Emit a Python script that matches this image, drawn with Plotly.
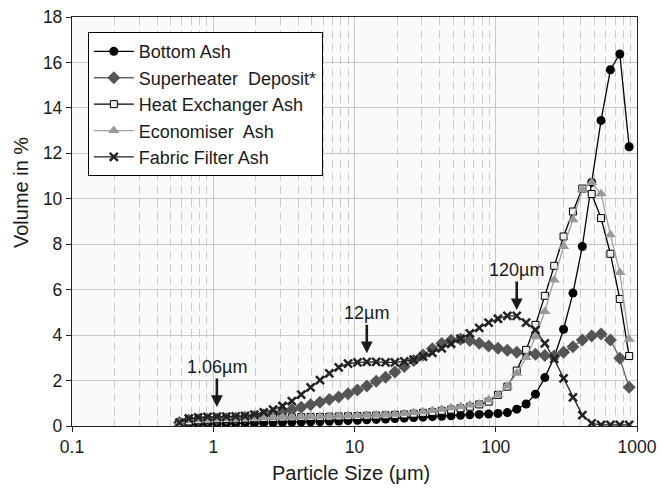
import plotly.graph_objects as go
import math

# Particle size classes (µm)
sizes = [0.576, 0.671, 0.782, 0.911, 1.061, 1.236, 1.440, 1.678, 1.954, 2.277,
         2.653, 3.090, 3.601, 4.195, 4.887, 5.693, 6.633, 7.728, 9.003, 10.49,
         12.22, 14.24, 16.59, 19.32, 22.51, 26.23, 30.55, 35.60, 41.47, 48.31,
         56.29, 65.58, 76.40, 89.01, 103.7, 120.8, 140.8, 164.0, 191.1, 222.6,
         259.3, 302.1, 352.0, 410.1, 477.7, 556.6, 648.4, 755.4, 880.0]

bottom_ash = [0.05, 0.07, 0.08, 0.09, 0.10, 0.10, 0.11, 0.12, 0.12, 0.13,
              0.14, 0.15, 0.16, 0.17, 0.18, 0.19, 0.21, 0.22, 0.24, 0.25,
              0.27, 0.29, 0.31, 0.33, 0.35, 0.37, 0.39, 0.41, 0.43, 0.45,
              0.47, 0.49, 0.51, 0.53, 0.55, 0.59, 0.74, 0.97, 1.40, 2.13,
              3.03, 4.26, 5.85, 7.90, 10.72, 13.45, 15.68, 16.37, 12.29]

superheater = [0.15, 0.25, 0.28, 0.30, 0.31, 0.32, 0.34, 0.37, 0.42, 0.48,
               0.55, 0.63, 0.72, 0.82, 0.93, 1.05, 1.17, 1.28, 1.42, 1.58,
               1.76, 1.97, 2.15, 2.38, 2.62, 2.88, 3.12, 3.40, 3.63, 3.77,
               3.82, 3.76, 3.64, 3.52, 3.42, 3.33, 3.25, 3.22, 3.16, 3.10,
               3.08, 3.25, 3.49, 3.79, 3.96, 4.05, 3.79, 2.98, 1.70]

heat_exchanger = [0.10, 0.20, 0.25, 0.28, 0.30, 0.31, 0.32, 0.33, 0.34, 0.35,
                  0.36, 0.37, 0.38, 0.39, 0.40, 0.40, 0.41, 0.42, 0.43, 0.44,
                  0.45, 0.46, 0.47, 0.49, 0.51, 0.54, 0.58, 0.62, 0.67, 0.72,
                  0.78, 0.85, 0.95, 1.07, 1.37, 1.73, 2.44, 3.35, 4.45, 5.73,
                  7.05, 8.34, 9.44, 10.45, 10.21, 9.15, 7.58, 5.59, 3.08]

economiser = [0.12, 0.24, 0.28, 0.30, 0.31, 0.32, 0.33, 0.34, 0.35, 0.36,
              0.37, 0.38, 0.39, 0.40, 0.41, 0.42, 0.43, 0.44, 0.45, 0.46,
              0.47, 0.48, 0.50, 0.52, 0.55, 0.59, 0.63, 0.68, 0.74, 0.80,
              0.86, 0.92, 0.97, 1.15, 1.37, 1.76, 2.32, 3.01, 3.93, 5.04,
              6.43, 7.90, 9.08, 10.40, 10.72, 10.22, 8.42, 6.76, 3.82]

fabric_filter = [0.15, 0.33, 0.38, 0.40, 0.41, 0.41, 0.42, 0.44, 0.50, 0.60,
                 0.72, 0.88, 1.10, 1.38, 1.70, 2.02, 2.32, 2.58, 2.74, 2.80,
                 2.82, 2.82, 2.80, 2.80, 2.84, 2.92, 3.05, 3.22, 3.42, 3.62,
                 3.84, 4.08, 4.32, 4.55, 4.72, 4.85, 4.85, 4.55, 4.23, 3.64,
                 2.95, 2.10, 1.26, 0.48, 0.12, 0.05, 0.05, 0.05, 0.05]

series_names = ["Bottom Ash", "Superheater  Deposit*", "Heat Exchanger Ash",
                "Economiser  Ash", "Fabric Filter Ash"]

x_tick_vals = [0.1, 1, 10, 100, 1000]
x_tick_text = ["0.1", "1", "10", "100", "1000"]
x_minor_vals = [m * d for d in (0.1, 1, 10, 100) for m in range(2, 10)]
y_tick_vals = [0, 2, 4, 6, 8, 10, 12, 14, 16, 18]

annot_labels = ["1.06µm", "12µm", "120µm"]
annot_x = [1.061, 12.22, 140.8]
annot_y = [0.84, 3.2, 5.1]

fig = go.Figure()

styles = [
    dict(line=dict(color="#000000", width=1.3),
         marker=dict(symbol="circle", size=9, color="#000000")),
    dict(line=dict(color="#666666", width=1.3),
         marker=dict(symbol="diamond", size=10, color="#555555")),
    dict(line=dict(color="#000000", width=1.3),
         marker=dict(symbol="square", size=7, color="#eeeeee",
                     line=dict(color="#000000", width=1))),
    dict(line=dict(color="#a0a0a0", width=1.3),
         marker=dict(symbol="triangle-up", size=10, color="#999999")),
    dict(line=dict(color="#222222", width=1.3),
         marker=dict(symbol="x-thin", size=8, color="#222222",
                     line=dict(color="#222222", width=2.5))),
]
data = [bottom_ash, superheater, heat_exchanger, economiser, fabric_filter]

for name, vals, st in zip(series_names, data, styles):
    fig.add_trace(go.Scatter(x=sizes, y=vals, name=name, mode="lines+markers", **st))

font_fam = "Liberation Sans, Arial, sans-serif"
txt_col = "#1a1a1a"

for lab, ax_, ay_ in zip(annot_labels, annot_x, annot_y):
    fig.add_annotation(x=math.log10(ax_), y=ay_, xref="x", yref="y",
                       text=lab, showarrow=True, arrowhead=2, arrowsize=0.9,
                       arrowwidth=2.6, arrowcolor="#1a1a1a", ax=0, ay=-40,
                       font=dict(size=18, color=txt_col, family=font_fam))

fig.add_annotation(text="Volume in %", textangle=-90, xref="paper", yref="paper",
                   x=-0.09, y=0.57, xanchor="center", yanchor="middle",
                   showarrow=False, font=dict(size=20, color=txt_col, family=font_fam))
fig.add_annotation(text="Particle Size (μm)", xref="paper", yref="paper",
                   x=0.493, y=-0.116, xanchor="center", yanchor="middle",
                   showarrow=False, font=dict(size=20, color=txt_col, family=font_fam))

fig.update_layout(
    width=662, height=488,
    margin=dict(l=72, r=25, t=17, b=62),
    paper_bgcolor="white", plot_bgcolor="#fafafa",
    font=dict(family=font_fam, size=18, color=txt_col),
    legend=dict(x=0.028, y=0.963, xanchor="left", yanchor="top",
                bgcolor="white", bordercolor="#000000", borderwidth=1,
                font=dict(size=18, color=txt_col), tracegroupgap=0,
                itemwidth=40),
    showlegend=True,
)

fig.update_xaxes(type="log", range=[-1, 3], tickvals=x_tick_vals, ticktext=x_tick_text,
                 showgrid=True, gridcolor="#c8c8c8", gridwidth=1, automargin=False,
                 ticks="outside", ticklen=5, tickcolor="#222222",
                 showline=True, linecolor="#222222", linewidth=1.3, mirror=True,
                 zeroline=False, tickfont=dict(size=17.5))
fig.update_xaxes(minor=dict(tickvals=x_minor_vals, showgrid=True, gridcolor="#cccccc",
                            griddash="8px,5px", gridwidth=1, ticks=""))
fig.update_yaxes(range=[0, 18], tickvals=y_tick_vals, automargin=False,
                 showgrid=True, gridcolor="#c8c8c8", gridwidth=1,
                 ticks="outside", ticklen=5, tickcolor="#222222",
                 showline=True, linecolor="#222222", linewidth=1.3, mirror=True,
                 zeroline=False, tickfont=dict(size=17.5))

fig.write_html("out.html", config={"displayModeBar": False})

# remove default page margin so the figure sits at the window origin
with open("out.html", "r", encoding="utf-8") as f:
    html = f.read()
html = html.replace("<head>", "<head><style>html,body{margin:0;padding:0;}</style>", 1)
with open("out.html", "w", encoding="utf-8") as f:
    f.write(html)
